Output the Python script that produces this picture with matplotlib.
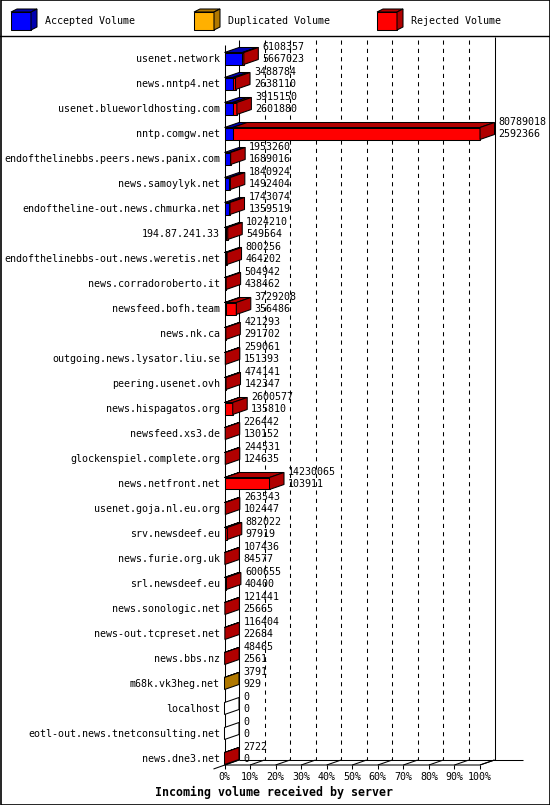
import numpy as np
import matplotlib
matplotlib.use("Agg")
import matplotlib.pyplot as plt
from matplotlib.patches import Polygon, Rectangle

servers = [
    "usenet.network", "news.nntp4.net", "usenet.blueworldhosting.com",
    "nntp.comgw.net", "endofthelinebbs.peers.news.panix.com",
    "news.samoylyk.net", "endoftheline-out.news.chmurka.net",
    "194.87.241.33", "endofthelinebbs-out.news.weretis.net",
    "news.corradoroberto.it", "newsfeed.bofh.team", "news.nk.ca",
    "outgoing.news.lysator.liu.se", "peering.usenet.ovh",
    "news.hispagatos.org", "newsfeed.xs3.de", "glockenspiel.complete.org",
    "news.netfront.net", "usenet.goja.nl.eu.org", "srv.newsdeef.eu",
    "news.furie.org.uk", "srl.newsdeef.eu", "news.sonologic.net",
    "news-out.tcpreset.net", "news.bbs.nz", "m68k.vk3heg.net",
    "localhost", "eotl-out.news.tnetconsulting.net", "news.dne3.net",
]
total_volume = np.array([
    6108357, 3488784, 3915150, 80789018, 1953260, 1840924, 1743074,
    1024210, 800256, 504942, 3729208, 421293, 259061, 474141, 2600577,
    226442, 244531, 14230065, 263543, 882022, 107436, 600655, 121441,
    116404, 48465, 3791, 0, 0, 2722,
])
accepted_volume = np.array([
    5667023, 2638110, 2601880, 2592366, 1689016, 1492404, 1359519,
    549564, 464202, 438462, 356486, 291702, 151393, 142347, 135810,
    130152, 124635, 103911, 102447, 97919, 84577, 40400, 25665,
    22684, 2561, 929, 0, 0, 0,
])
duplicated_volume = np.zeros(len(servers), dtype=int)
duplicated_volume[servers.index("m68k.vk3heg.net")] = 2862
rejected_volume = total_volume - accepted_volume - duplicated_volume

tick_pct = list(range(0, 101, 10))
legend_labels = ["Accepted Volume", "Duplicated Volume", "Rejected Volume"]
title = "Incoming volume received by server"

front_cols = ["#0000ff", "#ffb000", "#ff0000"]
dark_cols = ["#0000b0", "#b07800", "#b00000"]

W, Hgt = 550, 805
PX = 2.555          # pixels per percent
ROW = 25.0          # pixels per row
X0, Y0 = 224.5, 58.5
DX = 14.5 / PX
DY = 5 / ROW
HH = 6 / ROW
LW = 0.75
FONT = "DejaVu Sans Mono"

fig = plt.figure(figsize=(W / 100, Hgt / 100), dpi=100)

# frame / legend layer in pixel coords
pax = fig.add_axes([0, 0, 1, 1])
pax.set_xlim(0, W)
pax.set_ylim(Hgt, 0)
pax.axis("off")
pax.add_patch(Rectangle((0.5, 0.5), W - 1, Hgt - 1, fill=False, ec="black", lw=1.2))
pax.plot([0, W], [36.5, 36.5], color="black", lw=1)

for i, lab in enumerate(legend_labels):
    bx = 11 + i * 183
    pax.add_patch(Polygon([(bx, 12), (bx + 20, 12), (bx + 20, 30), (bx, 30)],
                          fc=front_cols[i], ec="black", lw=LW))
    pax.add_patch(Polygon([(bx, 12), (bx + 6, 9), (bx + 26, 9), (bx + 20, 12)],
                          fc=dark_cols[i], ec="black", lw=LW))
    pax.add_patch(Polygon([(bx + 20, 12), (bx + 26, 9), (bx + 26, 27), (bx + 20, 30)],
                          fc=dark_cols[i], ec="black", lw=LW))
    pax.text(bx + 34, 21.5, lab, fontsize=7.2, family=FONT, va="center", ha="left")

pax.text(274, 792, title, fontsize=8.4, family=FONT, weight="bold",
         ha="center", va="center")

# chart layer: x in percent, y in rows
ax = fig.add_axes([0, 0, 1, 1])
ax.patch.set_alpha(0)
ax.set_xlim(-X0 / PX, (W - X0) / PX)
ax.set_ylim((Hgt - Y0) / ROW, -Y0 / ROW)
ax.axis("off")

floor = (765 - Y0) / ROW
wall_top = (40 - Y0) / ROW
kw = dict(color="black", lw=LW, solid_capstyle="butt")

# back walls and grid
ax.plot([DX, DX], [wall_top, floor - DY], zorder=1, **kw)
ax.plot([100 + DX, 100 + DX], [(36.5 - Y0) / ROW, floor - DY], zorder=1, **kw)
for p in tick_pct[1:-1]:
    ax.plot([p + DX, p + DX], [wall_top, floor - DY], color="black", lw=LW,
            ls=(0, (4, 4)), zorder=1)
ax.plot([DX, (523 - X0) / PX], [floor - DY, floor - DY], zorder=1, **kw)

# floor front edge and ticks
ax.plot([0, 0], [(45 - Y0) / ROW, floor], zorder=2, **kw)
ax.plot([0, 100, 100 + DX], [floor, floor, floor - DY], zorder=2, **kw)
ax.plot([-11 / PX, DX], [floor + 4 / ROW, floor - DY], zorder=2, **kw)
for p in tick_pct:
    ax.plot([p, p], [floor, floor + 3.5 / ROW], zorder=2, **kw)
    ax.plot([p, p + DX], [floor, floor - DY], zorder=2, **kw)
    ax.text(p, (777 - Y0) / ROW, f"{p}%", fontsize=7.2, family=FONT,
            ha="center", va="center")

vmax = total_volume.max()
for r, name in enumerate(servers):
    segs = [accepted_volume[r], duplicated_volume[r], rejected_volume[r]]
    x = 0.0
    last = None
    for k, v in enumerate(segs):
        if v <= 0:
            continue
        w = v / vmax * 100
        ax.add_patch(Polygon([(x, r - HH), (x + w, r - HH), (x + w, r + HH), (x, r + HH)],
                             fc=front_cols[k], ec="black", lw=LW, zorder=3))
        ax.add_patch(Polygon([(x, r - HH), (x + DX, r - HH - DY),
                              (x + w + DX, r - HH - DY), (x + w, r - HH)],
                             fc=dark_cols[k], ec="black", lw=LW, zorder=3))
        x += w
        last = k
    side = "white" if last is None else dark_cols[last]
    ax.add_patch(Polygon([(x, r - HH), (x + DX, r - HH - DY),
                          (x + DX, r + HH - DY), (x, r + HH)],
                         fc=side, ec="black", lw=LW, zorder=3))
    tx = x + DX + 4 / PX
    ax.text(tx, r - 0.46, str(total_volume[r]), fontsize=7.2, family=FONT,
            ha="left", va="center", zorder=4)
    ax.text(tx, r + 0.02, str(accepted_volume[r]), fontsize=7.2, family=FONT,
            ha="left", va="center", zorder=4)
    ax.text(-4.5 / PX, r + 0.02, name, fontsize=7.2, family=FONT,
            ha="right", va="center", zorder=4)

fig.savefig("out.png", dpi=100)
plt.close(fig)
